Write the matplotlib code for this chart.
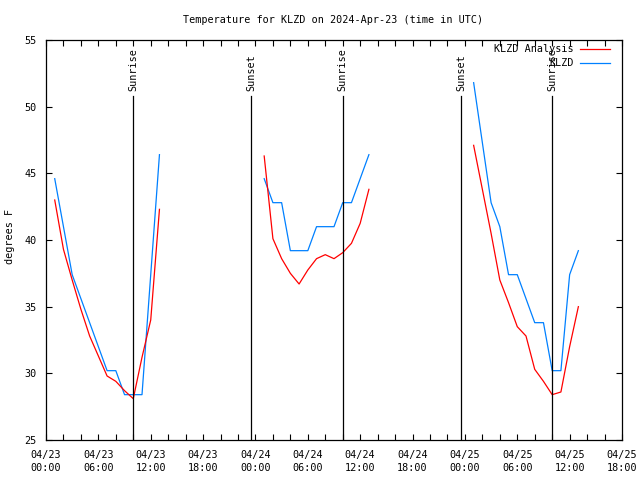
import numpy as np
import matplotlib
matplotlib.use("Agg")
import matplotlib.pyplot as plt
from datetime import datetime, timedelta

# ---- data (hours after 2024-04-23 00:00 UTC) ----
seg1_hours = list(range(1, 14))
seg2_hours = list(range(25, 38))
seg3_hours = list(range(49, 62))

obs1 = [44.6, 41.0, 37.4, 35.6, 33.8, 32.0, 30.2, 30.2, 28.4, 28.4, 28.4, 37.4, 46.4]
obs2 = [44.6, 42.8, 42.8, 39.2, 39.2, 39.2, 41.0, 41.0, 41.0, 42.8, 42.8, 44.6, 46.4]
obs3 = [51.8, 47.3, 42.8, 41.0, 37.4, 37.4, 35.6, 33.8, 33.8, 30.2, 30.2, 37.4, 39.2]

ana1 = [43.0, 39.3, 37.0, 34.8, 32.8, 31.3, 29.8, 29.4, 28.7, 28.1, 31.2, 34.0, 42.3]
ana2 = [46.3, 40.1, 38.6, 37.5, 36.7, 37.75, 38.6, 38.9, 38.6, 39.05, 39.75, 41.25, 43.8]
ana3 = [47.1, 43.8, 40.5, 37.0, 35.3, 33.5, 32.8, 30.3, 29.4, 28.4, 28.6, 32.0, 35.0]

event_hours = [10.0, 23.5, 34.0, 47.55, 58.0]
event_labels = ["Sunrise", "Sunset", "Sunrise", "Sunset", "Sunrise"]

base = datetime(2024, 4, 23, 0, 0)
tick_hours = list(range(0, 67, 6))
tick_labels = [(base + timedelta(hours=h)).strftime("%m/%d\n%H:%M") for h in tick_hours]
y_ticks = [25, 30, 35, 40, 45, 50, 55]

series_names = ["KLZD Analysis", "KLZD"]
colors = ["#ff0000", "#0080ff"]

def join(segs_h, segs_v):
    h, v = [], []
    for sh, sv in zip(segs_h, segs_v):
        h += list(sh) + [np.nan]
        v += list(sv) + [np.nan]
    return np.array(h, float), np.array(v, float)

hours = [seg1_hours, seg2_hours, seg3_hours]
ana_h, ana_v = join(hours, [ana1, ana2, ana3])
obs_h, obs_v = join(hours, [obs1, obs2, obs3])

FONT = "DejaVu Sans Mono"
FS = 7.3
plt.rcParams["font.family"] = FONT

fig = plt.figure(figsize=(6.4, 4.8), dpi=100)
ax = fig.add_axes([46/640, 1-440/480, (622-46)/640, 400/480])

ax.plot(obs_h, obs_v, color=colors[1], lw=0.9)
ax.plot(ana_h, ana_v, color=colors[0], lw=0.9)

for h, lab in zip(event_hours, event_labels):
    ax.plot([h, h], [25, 50.8], color="black", lw=0.9)
    ax.text(h, 51.15, lab, rotation=90, ha="center", va="bottom", fontsize=FS)

ax.set_xlim(0, 66)
ax.set_ylim(25, 55)
ax.set_xticks(tick_hours)
ax.set_xticklabels(tick_labels, fontsize=FS, linespacing=1.45)
ax.set_xticks(list(range(0, 67, 2)), minor=True)
ax.set_yticks(y_ticks)
ax.set_yticklabels([str(v) for v in y_ticks], fontsize=FS)
ax.tick_params(which="both", direction="in", top=True, right=True, length=4, width=0.8)
ax.tick_params(axis="x", which="major", pad=7)
ax.tick_params(axis="y", pad=7)
for s in ax.spines.values():
    s.set_linewidth(0.9)

fig.text(10/640, 1-236/480, "degrees F", rotation=90, ha="center", va="center", fontsize=FS)
fig.text(333/640, 1-20/480, "Temperature for KLZD on 2024-Apr-23 (time in UTC)",
         ha="center", va="center", fontsize=FS)

# legend (top right)
for i, (name, c) in enumerate(zip(series_names, colors)):
    ypx = 49 + 14*i
    yf = 1 - ypx/480
    fig.text(574/640, yf, name, ha="right", va="center", fontsize=FS)
    fig.add_artist(plt.Line2D([580/640, 610/640], [yf, yf], color=c, lw=0.9))

fig.savefig("out.png", dpi=100)
